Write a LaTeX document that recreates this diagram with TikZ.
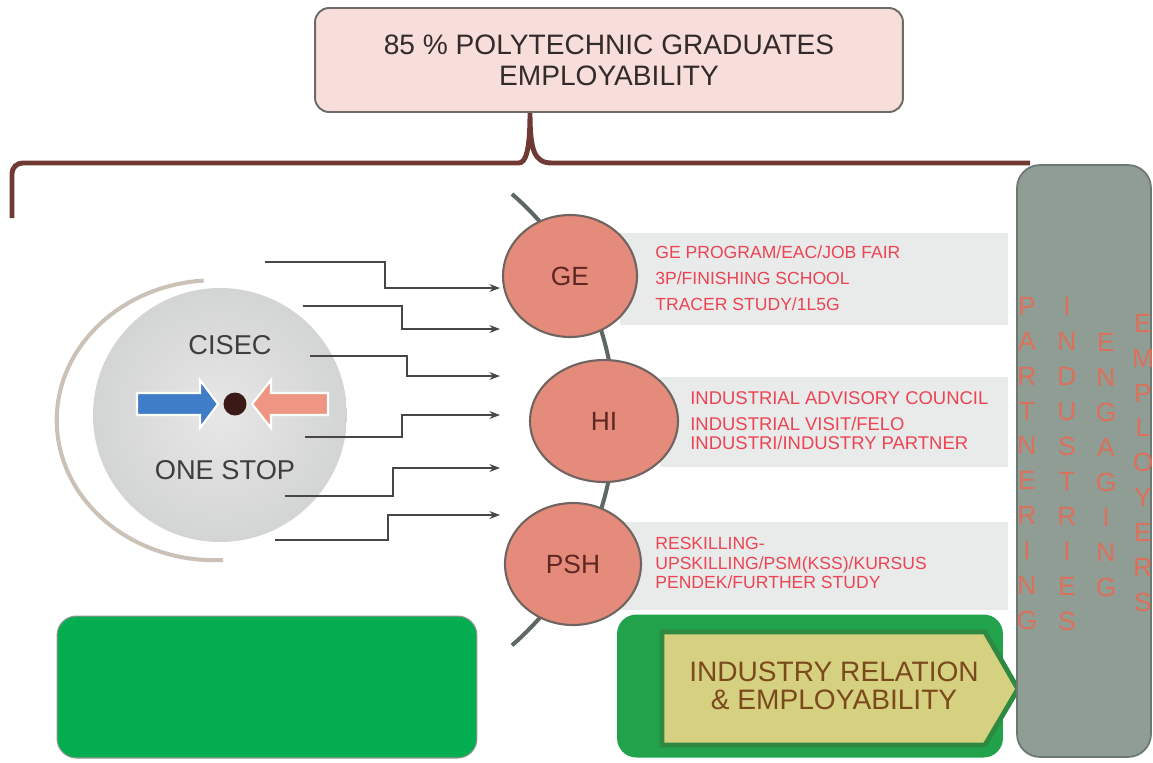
\documentclass[tikz,border=0pt]{standalone}
\usepackage{fontspec}
\setmainfont{Liberation Sans}
\usepackage{xcolor}
\usetikzlibrary{shapes.geometric, arrows.meta, positioning, calc}
\definecolor{TitlePink}{HTML}{F7DEDA}
\definecolor{TitleInk}{HTML}{332B2B}
\definecolor{FrameGray}{HTML}{6E6A68}
\definecolor{BraceBrown}{HTML}{6E3A33}
\definecolor{RingTan}{HTML}{CBC1B7}
\definecolor{DiscLight}{HTML}{E6E7E6}
\definecolor{DiscDark}{HTML}{D3D5D4}
\definecolor{DiscInk}{HTML}{3E3E3E}
\definecolor{ArrowBlue}{HTML}{3F7DC9}
\definecolor{ArrowSalmon}{HTML}{EE9583}
\definecolor{DotBrown}{HTML}{3A1916}
\definecolor{LinkGray}{HTML}{474747}
\definecolor{SpineGray}{HTML}{5E6763}
\definecolor{HubFill}{HTML}{E58B7C}
\definecolor{HubEdge}{HTML}{6F6460}
\definecolor{HubInk}{HTML}{5E2721}
\definecolor{PanelGray}{HTML}{E9EAEA}
\definecolor{ItemRed}{HTML}{EC4453}
\definecolor{SideGray}{HTML}{8F9D95}
\definecolor{SideEdge}{HTML}{6E7872}
\definecolor{SideInk}{HTML}{DB705B}
\definecolor{LeafGreen}{HTML}{04AE50}
\definecolor{DeepGreen}{HTML}{21A24B}
\definecolor{FrameGreen}{HTML}{2E8A40}
\definecolor{TagYellow}{HTML}{D6D081}
\definecolor{TagInk}{HTML}{7A4A1C}
\tikzset{
    % Boxes
    titlebox/.style={
        rectangle,
        rounded corners=8pt,
        draw=FrameGray,
        fill=TitlePink,
        line width=1.1pt,
        minimum width=11.76cm,
        minimum height=2.08cm,
        align=center,
        text=TitleInk,
        font=\fontsize{16}{17.6}\selectfont
    },
    disc/.style={
        circle,
        inner sep=0pt,
        minimum size=5.08cm,
        inner color=DiscLight,
        outer color=DiscDark
    },
    disclabel/.style={
        text=DiscInk,
        font=\fontsize{15.5}{18}\selectfont
    },
    hub/.style={
        ellipse,
        draw=HubEdge,
        fill=HubFill,
        line width=1.2pt,
        inner sep=0pt,
        text=HubInk,
        font=\fontsize{15}{18}\selectfont
    },
    itemtext/.style={
        anchor=west,
        align=left,
        inner sep=0pt,
        text=ItemRed
    },
    sidebar/.style={
        rectangle,
        rounded corners=13pt,
        draw=SideEdge,
        fill=SideGray,
        line width=1pt,
        minimum width=2.68cm,
        minimum height=11.84cm
    },
    stacktext/.style={
        align=center,
        inner sep=0pt,
        text=SideInk,
        font=\fontsize{15}{19.9}\selectfont
    },
    greenbox/.style={
        rectangle,
        rounded corners=11pt,
        draw=FrameGray!70,
        fill=LeafGreen,
        line width=0.6pt
    },
    % Lines
    link/.style={
        -{Stealth[length=6pt,width=4.5pt]},
        line width=0.8pt,
        draw=LinkGray
    },
    spine/.style={
        line width=2.3pt,
        draw=SpineGray
    },
    brace/.style={
        line width=2.8pt,
        draw=BraceBrown
    }
}
\begin{document}
\begin{tikzpicture}[x=0.02cm, y=-0.02cm]
    \useasboundingbox (0,0) rectangle (1153,762);

    % Brace under the goal
    \draw[brace, rounded corners=6pt] (12,218) -- (12,163) -- (508,163)
        [sharp corners] .. controls (526,163) and (530,150) .. (530,112)
        .. controls (530,150) and (534,163) .. (552,163) -- (1030,163);

    \node[titlebox] (goal) at (609,60) {85 \% POLYTECHNIC GRADUATES\\EMPLOYABILITY};

    % One stop centre
    \draw[RingTan, line width=2.3pt] (223,560) arc[start angle=87, end angle=266, x radius=158, y radius=140];
    \node[disc] (cisec) at (220,415) {};
    \node[disclabel] (cisectext) at (230,345) {CISEC};
    \node[disclabel] (onestop) at (225,470) {ONE STOP};
    \path[fill=ArrowBlue, draw=white, line width=1.2pt]
        (137,393) -- (200,393) -- (200,380) -- (218,404) -- (200,428) -- (200,415) -- (137,415) -- cycle;
    \path[fill=ArrowSalmon, draw=white, line width=1.2pt]
        (328,393) -- (271,393) -- (271,380) -- (252,404) -- (271,428) -- (271,415) -- (328,415) -- cycle;
    \node[circle, fill=DotBrown, minimum size=0.46cm, inner sep=0pt] (hubdot) at (235,404) {};

    % Text panels
    \fill[PanelGray] (620,233) rectangle (1008,325);
    \fill[PanelGray] (660,377) rectangle (1008,467);
    \fill[PanelGray] (620,522) rectangle (1008,610);

    \draw[spine] (512,194) arc[start angle=-49, end angle=49, radius=299];

    % Programmes
    \node[hub, minimum width=2.68cm, minimum height=2.44cm] (ge) at (570,276) {GE};
    \node[hub, minimum width=2.96cm, minimum height=2.44cm] (hi) at (604,421) {HI};
    \node[hub, minimum width=2.72cm, minimum height=2.44cm] (psh) at (573,564) {PSH};

    \node[itemtext, font=\fontsize{10}{14.7}\selectfont] (getext) at (655,278)
        {GE PROGRAM/EAC/JOB FAIR\\3P/FINISHING SCHOOL\\TRACER STUDY/1L5G};
    \node[itemtext, font=\fontsize{10.5}{10.8}\selectfont] (hitext) at (690,421)
        {INDUSTRIAL ADVISORY COUNCIL\\[3.9pt]INDUSTRIAL VISIT/FELO\\INDUSTRI/INDUSTRY PARTNER};
    \node[itemtext, font=\fontsize{10}{11}\selectfont] (pshtext) at (655,563)
        {RESKILLING-\\UPSKILLING/PSM(KSS)/KURSUS\\PENDEK/FURTHER STUDY};

    % Feeds from the centre
    \coordinate (s1) at (265,262); \coordinate (e1) at (500,288);
    \coordinate (s2) at (303,306); \coordinate (e2) at (500,329);
    \coordinate (s3) at (310,356); \coordinate (e3) at (500,376);
    \coordinate (s4) at (305,437); \coordinate (e4) at (500,415);
    \coordinate (s5) at (285,496); \coordinate (e5) at (500,468);
    \coordinate (s6) at (275,540); \coordinate (e6) at (500,515);
    \draw[link] (s1) -- ++(120,0) |- (e1);
    \draw[link] (s2) -- ++(99,0) |- (e2);
    \draw[link] (s3) -- ++(97,0) |- (e3);
    \draw[link] (s4) -- ++(97,0) |- (e4);
    \draw[link] (s5) -- ++(108,0) |- (e5);
    \draw[link] (s6) -- ++(113,0) |- (e6);

    % Bottom boxes
    \node[greenbox, minimum width=8.4cm, minimum height=2.84cm] (blank) at (267,687) {};
    \node[rectangle, rounded corners=11pt, fill=DeepGreen, minimum width=7.72cm, minimum height=2.86cm] (irbox) at (810,686) {};
    \path[fill=TagYellow, draw=FrameGreen, line width=2.8pt]
        (662,632) -- (985,632) -- (1018,689) -- (985,745) -- (662,745) -- cycle;
    \node[align=center, text=TagInk, font=\fontsize{16}{15.9}\selectfont] (irtext) at (834,686)
        {INDUSTRY RELATION\\\& EMPLOYABILITY};

    % Side bar
    \node[sidebar] (side) at (1084,461) {};
    \node[stacktext] (partnering) at (1027,463.5) {P\\A\\R\\T\\N\\E\\R\\I\\N\\G};
    \node[stacktext] (industries) at (1067,464) {I\\N\\D\\U\\S\\T\\R\\I\\E\\S};
    \node[stacktext] (engaging) at (1106,465) {E\\N\\G\\A\\G\\I\\N\\G};
    \node[stacktext] (employers) at (1143,463) {E\\M\\P\\L\\O\\Y\\E\\R\\S};
\end{tikzpicture}
\end{document}
